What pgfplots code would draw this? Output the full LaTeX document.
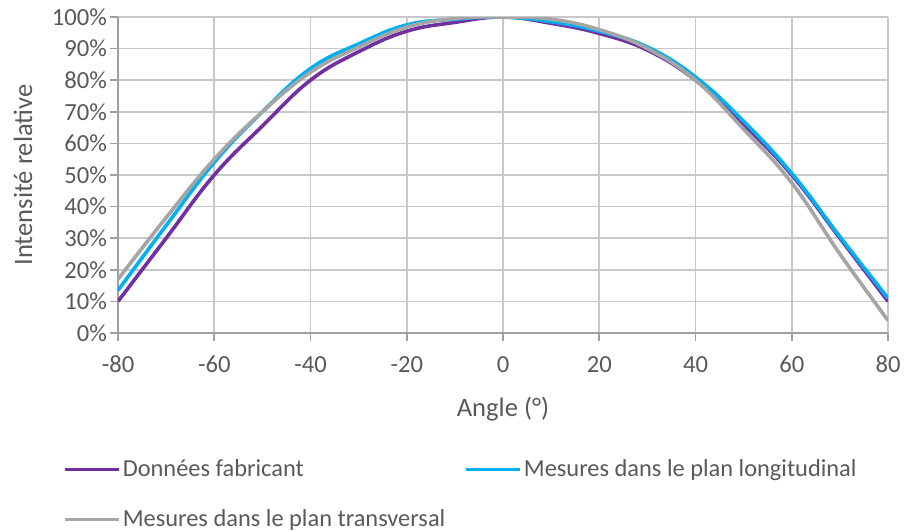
\documentclass[border=0pt]{standalone}
\usepackage{pgfplots}
\pgfplotsset{compat=1.18}
\usepackage{fontspec}
\setmainfont{Carlito}
\definecolor{cpurple}{HTML}{7030A0}
\definecolor{cblue}{HTML}{00B0F0}
\definecolor{cgray}{HTML}{A5A5A5}
\definecolor{ctext}{HTML}{595959}
\definecolor{cgrid}{HTML}{C8C8C8}
\definecolor{caxis}{HTML}{A0A0A0}
\begin{document}
\begin{tikzpicture}
\path[use as bounding box] (0,0) rectangle (452pt,265.5pt);
\begin{axis}[
  at={(59pt,99pt)}, anchor=south west,
  scale only axis, width=385pt, height=158pt,
  xmin=-80, xmax=80, ymin=0, ymax=100,
  xtick={-80,-60,...,80}, ytick={0,10,...,100},
  yticklabel={\pgfmathprintnumber{\tick}\%},
  /pgf/number format/assume math mode=true,
  axis x line*=bottom, axis y line*=left,
  axis line style={caxis, line width=0.8pt, -},
  grid=major, major grid style={cgrid, line width=0.8pt},
  tick style={caxis, line width=0.8pt},
  tick align=outside, major tick length=4pt,
  ticklabel style={font=\fontsize{12.3}{14}\selectfont, text=ctext},
  xticklabel style={yshift=-4pt},
  yticklabel style={xshift=2pt},
  xlabel={Angle (°)}, ylabel={Intensité relative},
  label style={font=\fontsize{13.3}{15}\selectfont, text=ctext},
  xlabel style={yshift=-5pt},
  ylabel style={yshift=3pt},
  legend columns=2,
  legend cell align=left,
  legend style={at={(axis description cs:-0.0795,-0.38)}, anchor=north west,
    draw=none, fill=none, font=\fontsize{12.2}{14}\selectfont, text=ctext,
    nodes={inner sep=1pt},
    /tikz/every even column/.append style={column sep=8.5pt},
    row sep=13pt},
  legend image code/.code={\draw[#1] (0pt,0pt) -- (27pt,0pt);},
  every axis plot/.append style={line width=1.8pt, smooth, tension=0.7},
]
\addplot[cpurple] coordinates {
(-80,10) (-70,30) (-60,50) (-50,65.5) (-40,80) (-30,89) (-20,95.5) (-10,98.3) (0,100)
(10,98) (20,94.8) (30,89.5) (40,80) (50,66) (60,50) (70,30) (80,10)};
\addlegendentry{Données fabricant}
\addplot[cblue] coordinates {
(-80,13.5) (-70,34) (-60,54) (-50,70) (-40,83.7) (-30,91.5) (-20,97.5) (-10,99.3) (0,100)
(10,98.5) (20,95.5) (30,90.5) (40,81) (50,67) (60,50.5) (70,30.5) (80,11)};
\addlegendentry{Mesures dans le plan longitudinal}
\addplot[cgray] coordinates {
(-80,17) (-70,36.5) (-60,55) (-50,70) (-40,82.5) (-30,90.5) (-20,96.8) (-10,99.5) (0,100)
(10,99.3) (20,96) (30,90) (40,80) (50,64.5) (60,47.5) (70,25) (80,4)};
\addlegendentry{Mesures dans le plan transversal}
\end{axis}
\end{tikzpicture}
\end{document}
